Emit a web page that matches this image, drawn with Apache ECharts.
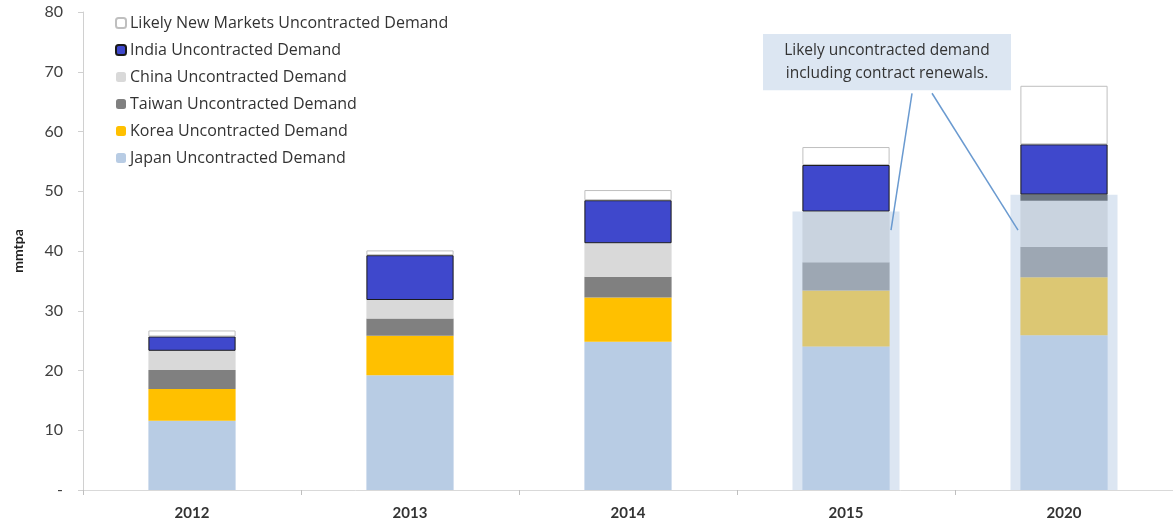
<!DOCTYPE html>
<html>
<head>
<meta charset="utf-8">
<script src="https://cdn.jsdelivr.net/npm/echarts@6/dist/echarts.min.js"></script>
<style>
html,body{margin:0;padding:0;background:#fff;}
#chart{width:1173px;height:529px;}
</style>
</head>
<body>
<div id="chart"></div>
<script>
// ---- data ----
var categories = ['2012', '2013', '2014', '2015', '2020'];
var japan      = [11.6, 19.2, 24.8, 24.0, 25.9];
var korea      = [5.3, 6.6, 7.4, 9.4, 9.7];
var taiwan     = [3.2, 2.9, 3.5, 4.7, 5.1];
var china      = [3.2, 3.1, 5.6, 8.5, 7.7];
var otherBand  = [0, 0, 0, 0, 1.05];
var india      = [2.4, 7.5, 7.2, 7.8, 8.4];
var newMarkets = [1.0, 0.8, 1.7, 3.0, 9.8];
var renewalHighlight = [null, null, null, 46.6, 49.4];
var yTicks = [0, 10, 20, 30, 40, 50, 60, 70, 80];
var annotationText = 'Likely uncontracted demand\nincluding contract renewals.';

var FONT = 'Lato';
var TFONT = 'Open Sans';
var chart = echarts.init(document.getElementById('chart'));

function bar(name, data, color, border, bw) {
  return {
    name: name, type: 'bar', stack: 'd', data: data,
    barCategoryGap: '60%',
    itemStyle: { color: color, borderColor: border || color, borderWidth: bw || 0 },
    emphasis: { disabled: true }
  };
}

var option = {
  animation: false,
  textStyle: { fontFamily: FONT },
  grid: { left: 83, top: 12, width: 1097.5, height: 478 },
  legend: {
    orient: 'vertical', left: 110, top: 10,
    itemWidth: 10, itemHeight: 10, itemGap: 11,
    textStyle: { fontFamily: TFONT, fontSize: 16, color: '#333', padding: [0, 0, 0, -1] },
    data: [
      'Likely New Markets Uncontracted Demand',
      'India Uncontracted Demand',
      'China Uncontracted Demand',
      'Taiwan Uncontracted Demand',
      'Korea Uncontracted Demand',
      'Japan Uncontracted Demand'
    ]
  },
  xAxis: [{
    type: 'category', data: categories,
    axisLine: { lineStyle: { color: '#d9d9d9', width: 1 } },
    axisTick: { show: true, length: 5, lineStyle: { color: '#bfbfbf' } },
    axisLabel: { fontFamily: FONT, fontSize: 15, fontWeight: 'bold', color: '#333', margin: 16 }
  }, {
    type: 'category', data: categories, show: false
  }],
  yAxis: {
    type: 'value', min: 0, max: 80, interval: 10,
    name: 'mmtpa', nameLocation: 'middle', nameGap: 58,
    nameTextStyle: { fontFamily: FONT, fontSize: 14, fontWeight: 'bold', color: '#222' },
    axisLine: { show: true, lineStyle: { color: '#d0d0d0' } },
    axisTick: { show: true, length: 5, lineStyle: { color: '#d0d0d0' } },
    splitLine: { show: false },
    axisLabel: {
      fontFamily: FONT, fontSize: 16, color: '#404040', margin: 20,
      formatter: function (v) { return yTicks.indexOf(v) === 0 ? '-' : String(v); }
    }
  },
  series: [
    bar('Japan Uncontracted Demand', japan, '#b8cce4'),
    bar('Korea Uncontracted Demand', korea, '#ffc000'),
    bar('Taiwan Uncontracted Demand', taiwan, '#808080'),
    bar('China Uncontracted Demand', china, '#d9d9d9'),
    bar('Other', otherBand, '#1e1e1e'),
    bar('India Uncontracted Demand', india, '#3f48cc', '#1a1a1a', 1),
    bar('Likely New Markets Uncontracted Demand', newMarkets, '#ffffff', '#bfbfbf', 1),
    {
      name: 'Renewals', type: 'bar', xAxisIndex: 1, data: renewalHighlight,
      barWidth: 107, z: 5, silent: true,
      itemStyle: { color: 'rgba(185,205,230,0.5)' }
    }
  ]
};
chart.setOption(option);

function drawAnnotation() {
  var p15 = chart.convertToPixel({ xAxisIndex: 0, yAxisIndex: 0 }, ['2015', 43.5]);
  var p20 = chart.convertToPixel({ xAxisIndex: 0, yAxisIndex: 0 }, ['2020', 43.5]);
  var topY = chart.convertToPixel({ yAxisIndex: 0 }, 76.3);
  var botY = chart.convertToPixel({ yAxisIndex: 0 }, 66.9);
  var boxLeft = p15[0] - 83;
  var boxW = 248;
  var lineStartY = botY + 3;
  chart.setOption({
    graphic: [
      {
        type: 'rect', z: 10,
        shape: { x: boxLeft, y: topY, width: boxW, height: botY - topY },
        style: { fill: '#dce6f2' }
      },
      {
        type: 'text', z: 11,
        x: boxLeft + boxW / 2, y: (topY + botY) / 2,
        style: {
          text: annotationText, fill: '#333', font: '15.5px "' + TFONT + '"',
          align: 'center', verticalAlign: 'middle', lineHeight: 23
        }
      },
      {
        type: 'line', z: 10,
        shape: { x1: boxLeft + 149, y1: lineStartY, x2: p15[0] + 45, y2: p15[1] },
        style: { stroke: '#6a9ad0', lineWidth: 1.5 }
      },
      {
        type: 'line', z: 10,
        shape: { x1: boxLeft + 169, y1: lineStartY, x2: p20[0] - 46, y2: p20[1] },
        style: { stroke: '#6a9ad0', lineWidth: 1.5 }
      }
    ]
  });
}
drawAnnotation();
</script>
</body>
</html>
